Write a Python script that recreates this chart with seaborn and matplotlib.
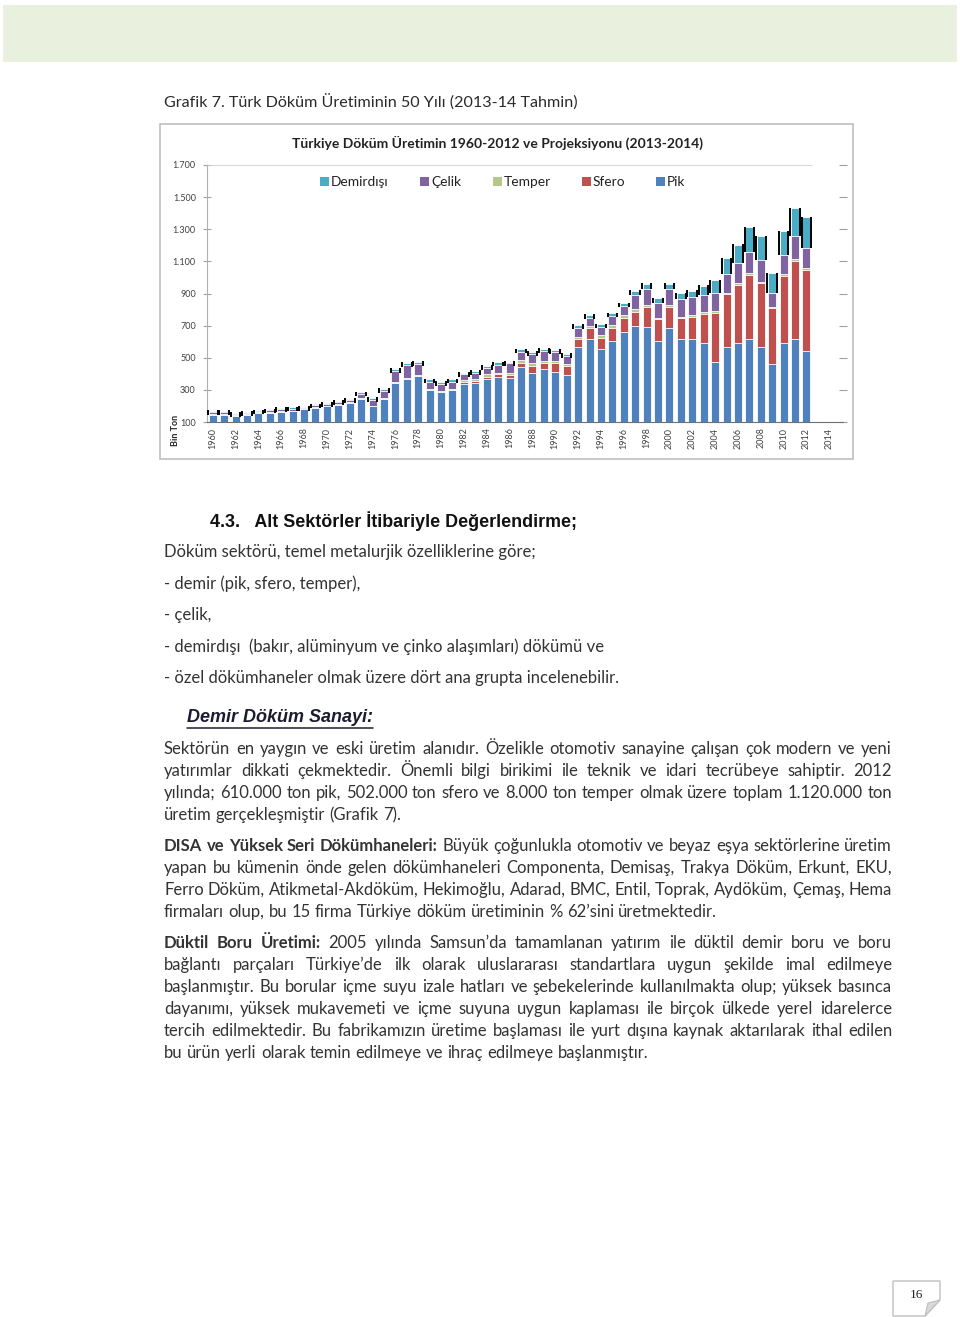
import numpy as np
import pandas as pd
import matplotlib
matplotlib.use("Agg")
import matplotlib.pyplot as plt
from matplotlib.patches import Rectangle, Polygon
import seaborn as sns

# --- chart data (bin ton) ---
years = list(range(1960, 2015))
pik = [145, 145, 137, 145, 158, 158, 162, 166, 178, 189, 197, 207, 220, 244, 197, 244,
       343, 368, 387, 298, 288, 298, 336, 340, 367, 380, 372, 441, 403, 428, 414, 393,
       569, 617, 553, 605, 663, 698, 694, 605, 688, 615, 617, 590, 472, 565, 590, 619,
       565, 459, 590, 617, 544, 0, 0]
sfero = [0, 0, 0, 0, 0, 0, 0, 0, 0, 0, 0, 0, 0, 0, 0, 0,
         0, 0, 0, 0, 0, 0, 13, 15, 15, 19, 21, 25, 46, 38, 52, 56,
         46, 67, 68, 79, 83, 85, 121, 135, 131, 131, 139, 183, 309, 330, 363, 397,
         399, 349, 422, 486, 503, 0, 0]
temper = [4, 4, 4, 3, 3, 4, 5, 5, 3, 4, 4, 4, 4, 4, 3, 4,
          5, 5, 5, 5, 5, 5, 13, 13, 17, 8, 10, 20, 17, 16, 16, 10,
          17, 14, 21, 20, 21, 19, 14, 10, 10, 10, 13, 14, 13, 11, 11, 10,
          10, 11, 10, 11, 11, 0, 0]
celik = [12, 12, 10, 8, 7, 10, 13, 13, 8, 12, 13, 14, 14, 25, 38, 44,
         72, 82, 69, 47, 44, 49, 36, 38, 40, 50, 63, 52, 58, 60, 52, 52,
         56, 52, 52, 56, 56, 89, 98, 89, 98, 108, 108, 104, 112, 116, 125, 135,
         135, 87, 119, 141, 128, 0, 0]
demirdisi = [7, 7, 7, 6, 4, 6, 7, 7, 4, 6, 6, 7, 6, 12, 12, 14,
             10, 12, 15, 15, 13, 13, 10, 13, 12, 15, 8, 15, 14, 13, 15, 13,
             16, 17, 15, 17, 16, 27, 33, 32, 33, 38, 41, 58, 75, 98, 114, 152,
             146, 120, 145, 176, 189, 0, 0]

series_names = ["Pik", "Sfero", "Temper", "Çelik", "Demirdışı"]
series_colors = ["#4F81BD", "#C0504D", "#B3C98A", "#8064A2", "#4BACC6"]
ytick_vals = [100, 300, 500, 700, 900, 1100, 1300, 1500, 1700]
ytick_labels = ["100", "300", "500", "700", "900", "1.100", "1.300", "1.500", "1.700"]

df = pd.DataFrame({"Yil": [str(y) for y in years], "Pik": pik, "Sfero": sfero,
                   "Temper": temper, "Çelik": celik, "Demirdışı": demirdisi})
cum = df[series_names].cumsum(axis=1)

sns.set_style("white")
plt.rcParams["font.family"] = ["Lato", "DejaVu Sans"]

fig = plt.figure(figsize=(9.6, 13.17), dpi=100)
page = fig.add_axes([0, 0, 1, 1])
page.set_xlim(0, 960)
page.set_ylim(1317, 0)
page.axis("off")
renderer = fig.canvas.get_renderer()

txt_color = "#333333"

# header band
page.add_patch(Rectangle((3, 5), 954, 57, color="#e9f1de", lw=0))
page.text(164, 102, "Grafik 7. Türk Döküm Üretiminin 50 Yılı (2013-14 Tahmin)",
          fontsize=11.6, color="#2a2a2a", va="center")

# chart frame
page.add_patch(Rectangle((160, 124), 693, 335, fill=False, ec="#bfbfbf", lw=1.2))
page.text(498, 143, "Türkiye Döküm Üretimin 1960-2012 ve Projeksiyonu (2013-2014)",
          fontsize=10, fontweight="bold", color="#222222", ha="center", va="center")

# legend, drawn by hand
leg_x = [320, 420, 493, 582, 656]
for name, color, lx in zip(series_names[::-1], series_colors[::-1], leg_x):
    page.add_patch(Rectangle((lx, 177), 9, 9, color=color, lw=0))
    page.text(lx + 11, 182, name, fontsize=9.9, color="#222222", va="center")

page.text(175, 430, "Bin Ton", rotation=90, fontsize=6.5, fontweight="bold",
          color="#222222", ha="center", va="center")

# --- the chart ---
ax = fig.add_axes([207 / 960, 1 - 422 / 1317, 636 / 960, 257 / 1317])
ax.patch.set_alpha(0)
for name, color in zip(series_names[::-1], series_colors[::-1]):
    sns.barplot(x=df["Yil"], y=cum[name], color=color, saturation=1, width=0.7,
                edgecolor="white", linewidth=0.6, errorbar=None, ax=ax)

# dark "bracket" edges around the top segments
tot = cum["Demirdışı"].values
span = np.maximum(df["Demirdışı"].values, 25)
for i in range(len(years)):
    if tot[i] > 0:
        ax.vlines([i - 0.42, i + 0.42], tot[i] - span[i], tot[i] + 4,
                  colors="black", lw=1.4, zorder=3)

ax.set_ylim(100, 1700)
ax.set_xlim(-0.5, 55.2)
ax.axhline(1700, xmin=0, xmax=0.951, color="#d0d0d0", lw=1.2)
ax.set_yticks(ytick_vals)
ax.set_yticklabels(ytick_labels, fontsize=6.5, color="#404040")
ax.set_xticks(range(len(years)))
ax.set_xticklabels([str(y) if y % 2 == 0 else "" for y in years], rotation=90,
                   fontsize=6.5, color="#404040")
ax.set_xticks(np.arange(len(years)) + 0.5, minor=True)
ax.tick_params(axis="x", which="major", length=0, pad=4)
ax.tick_params(axis="x", which="minor", length=3, color="#606060", direction="out")
ax.tick_params(axis="y", left=True, right=True, length=6, direction="inout",
               color="#a0a0a0", pad=5)
ax.set_xlabel("")
ax.set_ylabel("")
for s in ["top", "right"]:
    ax.spines[s].set_visible(False)
ax.spines["left"].set_color("#b0b0b0")
ax.spines["bottom"].set_color("#707070")
ax.grid(False)

# --- page text ---
page.text(210, 521, "4.3.   Alt Sektörler İtibariyle Değerlendirme;", fontsize=12.9,
          fontweight="bold", family=["Liberation Sans", "DejaVu Sans"], color="#111111",
          va="center")

body_size = 12.0
plain_lines = [
    (552, "Döküm sektörü, temel metalurjik özelliklerine göre;"),
    (584, "- demir (pik, sfero, temper),"),
    (615, "- çelik,"),
    (647, "- demirdışı  (bakır, alüminyum ve çinko alaşımları) dökümü ve"),
    (678, "- özel dökümhaneler olmak üzere dört ana grupta incelenebilir."),
]
for y, s in plain_lines:
    page.text(164, y, s, fontsize=body_size, color=txt_color, va="center")

h = page.text(187, 718, "Demir Döküm Sanayi:", fontsize=13, fontweight="bold",
              fontstyle="italic", family=["Liberation Sans", "DejaVu Sans"],
              color="#1c1c30", va="center")
hw = h.get_window_extent(renderer).width
page.plot([187, 187 + hw], [728, 728], color="#1c1c30", lw=1.1)


def draw_line(y, segments, justify, x0=164, x1=892):
    words = []
    for s, bold in segments:
        for w in s.split():
            words.append((w, bold))
    arts = [page.text(0, y, w, fontsize=body_size, color=txt_color, va="center",
                      fontweight="bold" if b else "normal") for w, b in words]
    widths = [a.get_window_extent(renderer).width for a in arts]
    if justify and len(words) > 1:
        gap = (x1 - x0 - sum(widths)) / (len(words) - 1)
    else:
        a1 = page.text(0, 0, "a a", fontsize=body_size)
        a2 = page.text(0, 0, "aa", fontsize=body_size)
        gap = a1.get_window_extent(renderer).width - a2.get_window_extent(renderer).width
        a1.remove()
        a2.remove()
    x = x0
    for a, w in zip(arts, widths):
        a.set_x(x)
        x += w + gap


paragraphs = [
    (749, [
        [("Sektörün en yaygın ve eski üretim alanıdır. Özelikle otomotiv sanayine çalışan çok modern ve yeni", False)],
        [("yatırımlar dikkati çekmektedir. Önemli bilgi birikimi ile teknik ve idari tecrübeye sahiptir. 2012", False)],
        [("yılında; 610.000 ton pik, 502.000 ton sfero ve 8.000 ton temper olmak üzere toplam 1.120.000 ton", False)],
        [("üretim gerçekleşmiştir (Grafik 7).", False)],
    ]),
    (846, [
        [("DISA ve Yüksek Seri Dökümhaneleri:", True),
         ("Büyük çoğunlukla otomotiv ve beyaz eşya sektörlerine üretim", False)],
        [("yapan bu kümenin önde gelen dökümhaneleri Componenta, Demisaş, Trakya Döküm, Erkunt, EKU,", False)],
        [("Ferro Döküm, Atikmetal-Akdöküm, Hekimoğlu, Adarad, BMC, Entil, Toprak, Aydöküm, Çemaş, Hema", False)],
        [("firmaları olup, bu 15 firma Türkiye döküm üretiminin % 62’sini üretmektedir.", False)],
    ]),
    (943, [
        [("Düktil Boru Üretimi:", True),
         ("2005 yılında Samsun’da tamamlanan yatırım ile düktil demir boru ve boru", False)],
        [("bağlantı parçaları Türkiye’de ilk olarak uluslararası standartlara uygun şekilde imal edilmeye", False)],
        [("başlanmıştır. Bu borular içme suyu izale hatları ve şebekelerinde kullanılmakta olup; yüksek basınca", False)],
        [("dayanımı, yüksek mukavemeti ve içme suyuna uygun kaplaması ile birçok ülkede yerel idarelerce", False)],
        [("tercih edilmektedir. Bu fabrikamızın üretime başlaması ile yurt dışına kaynak aktarılarak ithal edilen", False)],
        [("bu ürün yerli olarak temin edilmeye ve ihraç edilmeye başlanmıştır.", False)],
    ]),
]
for y0, lines in paragraphs:
    for k, segs in enumerate(lines):
        draw_line(y0 + 22 * k, segs, justify=(k < len(lines) - 1))

# page number tab
page.add_patch(Polygon([(893, 1281), (940, 1281), (940, 1300), (925, 1316), (893, 1316)],
                       closed=True, fill=False, ec="#bfbfbf", lw=1))
page.add_patch(Polygon([(925, 1316), (928, 1303), (940, 1300)], closed=True,
                       fc="#d9d9d9", ec="#bfbfbf", lw=0.8))
page.text(916, 1295, "16", fontsize=9.5, family=["Liberation Serif", "DejaVu Serif"],
          color="#222222", ha="center", va="center")

fig.savefig("out.png", dpi=100, facecolor="white")
